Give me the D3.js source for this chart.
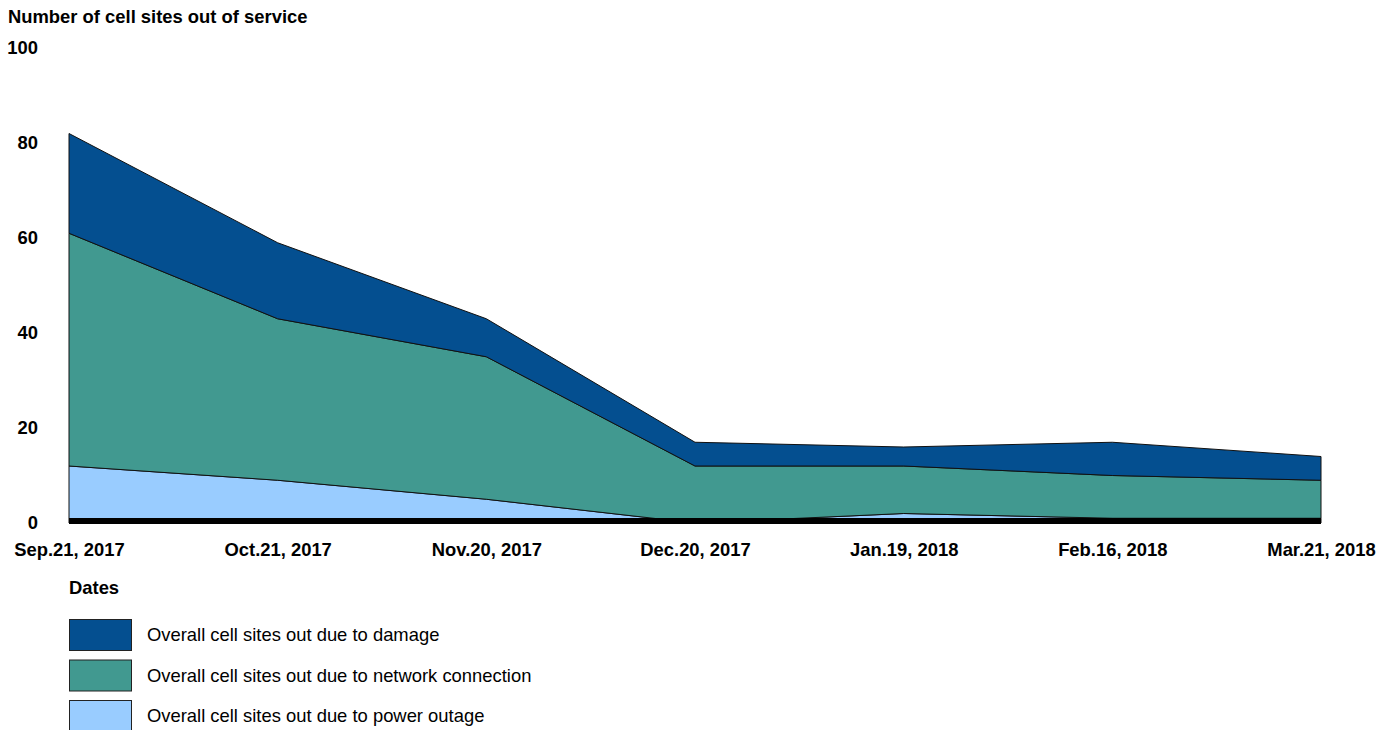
<!DOCTYPE html>
<html><head><meta charset="utf-8">
<script src="https://cdn.jsdelivr.net/npm/d3@7"></script>
<style>body{margin:0;background:#fff}svg{display:block;font-family:"Liberation Sans",Arial,sans-serif}</style>
</head><body><svg id="c" width="1387" height="730"></svg>
<script>
const dates = ["Sep.21, 2017","Oct.21, 2017","Nov.20, 2017","Dec.20, 2017","Jan.19, 2018","Feb.16, 2018","Mar.21, 2018"];
const powerOutage = [12, 9, 5, 0, 2, 1, 1];
const networkConnection = [49, 34, 30, 12, 10, 9, 8];
const damage = [21, 16, 8, 5, 4, 7, 5];
const yTicks = [0, 20, 40, 60, 80, 100];
const seriesNames = ["Overall cell sites out due to damage","Overall cell sites out due to network connection","Overall cell sites out due to power outage"];
const seriesColors = ["#044f90","#419990","#99ccff"];

const FS = 18.4;
const svg = d3.select("#c");
const x = d3.scalePoint().domain(dates).range([69, 1321]);
const y = d3.scaleLinear().domain([0, 100]).range([523, 48]);

const rows = dates.map((d,i)=>({date:d, power:powerOutage[i], network:networkConnection[i], damage:damage[i]}));
const stack = d3.stack().keys(["power","network","damage"])(rows);
const colorByKey = {damage:seriesColors[0], network:seriesColors[1], power:seriesColors[2]};
const area = d3.area().x(d=>x(d.data.date)).y0(d=>y(d[0])).y1(d=>y(d[1]));

svg.append("g").selectAll("path").data(stack).join("path")
  .attr("d", area).attr("fill", d=>colorByKey[d.key])
  .attr("stroke","#111").attr("stroke-width",1).attr("stroke-linejoin","round");

// baseline bar
svg.append("line").attr("x1", x(dates[0])).attr("x2", x(dates[dates.length-1]))
  .attr("y1", y(0)-2).attr("y2", y(0)-2).attr("stroke","#000").attr("stroke-width",6);

// title
svg.append("text").attr("x",8).attr("y",23).attr("font-size",FS).attr("font-weight","bold").text("Number of cell sites out of service");

// y axis labels
const yAxis = d3.axisLeft(y).tickValues(yTicks).tickSize(0).tickPadding(0);
const gy = svg.append("g").attr("transform","translate(38,0)").call(yAxis);
gy.select(".domain").remove();
gy.selectAll("text").attr("font-size",FS).attr("font-weight","bold").attr("fill","#000").attr("font-family","Liberation Sans, Arial, sans-serif");

// x axis labels
const xAxis = d3.axisBottom(x).tickSize(0).tickPadding(0);
const gx = svg.append("g").attr("transform","translate(0,543)").call(xAxis);
gx.select(".domain").remove();
gx.selectAll("text").attr("font-size",FS).attr("font-weight","bold").attr("fill","#000").attr("font-family","Liberation Sans, Arial, sans-serif");

svg.append("text").attr("x",69).attr("y",594).attr("font-size",FS).attr("font-weight","bold").text("Dates");

const lg = svg.append("g").selectAll("g").data(seriesNames).join("g")
  .attr("transform",(d,i)=>`translate(69,${619+i*40.5})`);
lg.append("rect").attr("x",0.5).attr("y",0.5).attr("width",62).attr("height",31)
  .attr("fill",(d,i)=>seriesColors[i]).attr("stroke","#222").attr("stroke-width",1);
lg.append("text").attr("x",78).attr("y",16).attr("dy","0.35em").attr("font-size",FS).text(d=>d);
</script></body></html>
